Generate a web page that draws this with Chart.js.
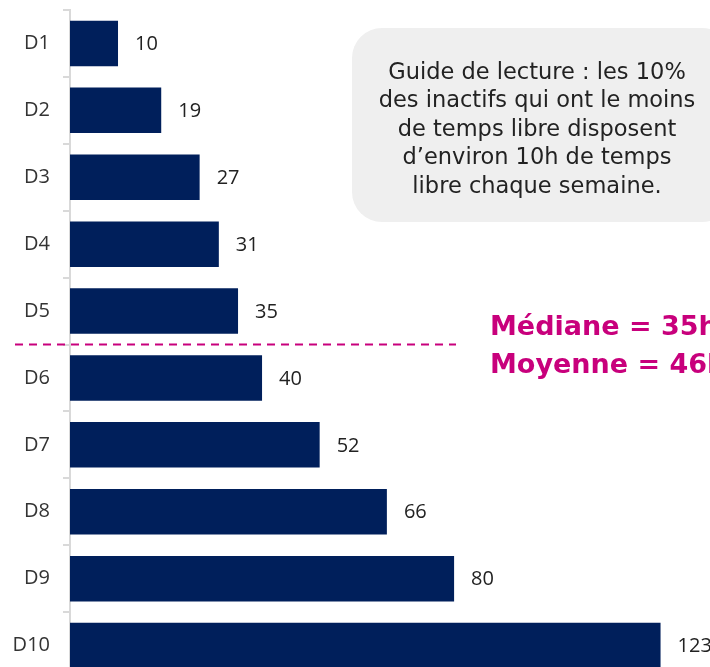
<!DOCTYPE html>
<html>
<head>
<meta charset="utf-8">
<script src="https://cdn.jsdelivr.net/npm/chart.js@4"></script>
<style>
  html, body { margin: 0; padding: 0; background: #fff; overflow: hidden; }
  #wrap { width: 710px; height: 679px; position: relative; }
</style>
</head>
<body>
<div id="wrap"><canvas id="decileChart"></canvas></div>
<script>
let deciles = ['D1','D2','D3','D4','D5','D6','D7','D8','D9','D10'];
let hours = [10, 19, 27, 31, 35, 40, 52, 66, 80, 123];
let guideLines = ['Guide de lecture : les 10%', 'des inactifs qui ont le moins', 'de temps libre disposent', 'd\u2019environ 10h de temps', 'libre chaque semaine.'];
let statLines = ['Médiane = 35h', 'Moyenne = 46h'];
let medianAfter = 'D5';

let navy = '#001f5b';
let pink = '#c8007c';
let fontName = '"DejaVu Sans", sans-serif';
let tickFont = '"Open Sans", sans-serif';

// value labels, dashed median line, reading guide box
let extrasPlugin = {
    id: 'extras',
    afterDatasetsDraw(chart) {
        let ctx = chart.ctx;
        let meta = chart.getDatasetMeta(0);
        let yScale = chart.scales.y;
        ctx.save();
        ctx.fillStyle = '#222';
        ctx.font = '20px ' + tickFont;
        ctx.textBaseline = 'middle';
        meta.data.forEach(function (bar, i) {
            ctx.fillText(String(hours[i]), bar.x + 17, bar.y + 1);
        });

        // dashed line between D5 and D6
        let idx = deciles.indexOf(medianAfter);
        let yLine = (yScale.getPixelForValue(idx) + yScale.getPixelForValue(idx + 1)) / 2;
        ctx.strokeStyle = pink;
        ctx.lineWidth = 2;
        ctx.setLineDash([8, 6]);
        ctx.beginPath();
        ctx.moveTo(15, yLine);
        ctx.lineTo(456, yLine);
        ctx.stroke();
        ctx.setLineDash([]);

        ctx.fillStyle = pink;
        ctx.font = 'bold 27px ' + fontName;
        ctx.textAlign = 'left';
        ctx.fillText(statLines[0], 490, yLine - 17);
        ctx.fillText(statLines[1], 490, yLine + 21);

        // guide box
        let bx = 352, by = 28, bw = 380, bh = 194, r = 30;
        ctx.fillStyle = '#efefef';
        ctx.beginPath();
        ctx.roundRect(bx, by, bw, bh, r);
        ctx.fill();
        ctx.fillStyle = '#222';
        ctx.font = '22.5px ' + fontName;
        ctx.textAlign = 'center';
        guideLines.forEach(function (line, i) {
            ctx.fillText(line, 537, 73 + i * 28.5);
        });
        ctx.restore();
    }
};

let ctx = document.getElementById('decileChart').getContext('2d');
let barChart = new Chart(ctx, {
    type: 'bar',
    data: {
        labels: deciles,
        datasets: [{
            data: hours,
            backgroundColor: navy,
            borderWidth: 0,
            categoryPercentage: 1,
            barPercentage: 0.68
        }]
    },
    options: {
        indexAxis: 'y',
        responsive: true,
        maintainAspectRatio: false,
        animation: false,
        layout: { padding: { top: 10, right: 0, bottom: 0, left: 0 } },
        plugins: { legend: { display: false }, tooltip: { enabled: false } },
        scales: {
            x: {
                display: false,
                min: 0,
                max: 133.3
            },
            y: {
                afterFit(scale) {
                    scale.width = 70;
                    scale.paddingTop = 0;
                    scale.paddingBottom = 0;
                },
                border: { color: '#d9d9d9', width: 2 },
                grid: {
                    drawOnChartArea: false,
                    tickLength: 7,
                    color: '#d9d9d9',
                    lineWidth: 2
                },
                ticks: {
                    color: '#333',
                    padding: 13,
                    font: { family: tickFont, size: 20 }
                }
            }
        }
    },
    plugins: [extrasPlugin]
});
</script>
</body>
</html>
